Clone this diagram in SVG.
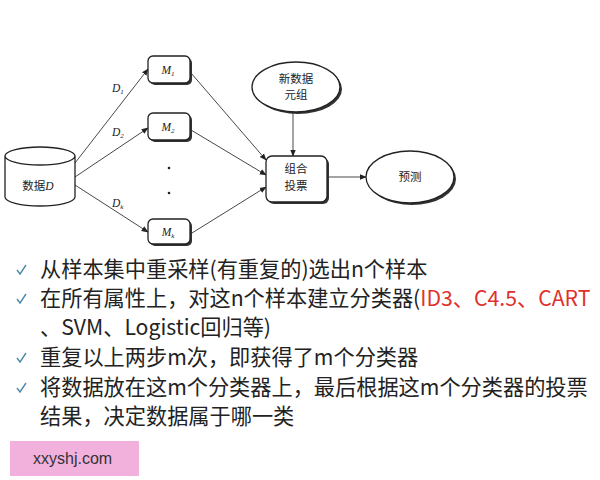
<svg xmlns="http://www.w3.org/2000/svg" width="600" height="480" viewBox="0 0 600 480">
<style>
.shape{fill:#fff;stroke:#222;stroke-width:1.3}
.shadow{fill:#333}
.edge{fill:none;stroke:#333;stroke-width:0.9}
.lab{font-family:"Noto Sans CJK SC","Noto Sans",sans-serif;font-size:11.5px;fill:#222;text-anchor:middle}
.it{font-family:"Liberation Serif",serif;font-style:italic}
.b{font-family:"Noto Sans CJK SC","Noto Sans",sans-serif;font-size:21.2px;fill:#222}
.red{fill:#e0302c}
.chk{fill:none;stroke:#4a8aa8;stroke-width:1.4}
</style>
<defs>
<marker id="ah" viewBox="0 0 10 10" refX="9" refY="5" markerWidth="7" markerHeight="7" markerUnits="userSpaceOnUse" orient="auto">
<path d="M0,1 L10,5 L0,9 z" fill="#222"/>
</marker>
</defs>
<rect width="600" height="480" fill="#fff"/>
<g id="connectors">
<path class="edge" d="M75,163 L148,69" marker-end="url(#ah)"/>
<path class="edge" d="M75,177 L148,128" marker-end="url(#ah)"/>
<path class="edge" d="M75,185 L148,232" marker-end="url(#ah)"/>
<path class="edge" d="M191,73 L266,160" marker-end="url(#ah)"/>
<path class="edge" d="M191,130 L266,175" marker-end="url(#ah)"/>
<path class="edge" d="M192,233 L266,187" marker-end="url(#ah)"/>
<path class="edge" d="M293,112 L293,156" marker-end="url(#ah)"/>
<path class="edge" d="M328,177 L366,177" marker-end="url(#ah)"/>
<text class="lab it" x="112" y="92" style="text-anchor:start">D<tspan font-size="7" dy="2">1</tspan></text>
<text class="lab it" x="112" y="136" style="text-anchor:start">D<tspan font-size="7" dy="2">2</tspan></text>
<text class="lab it" x="112" y="207" style="text-anchor:start">D<tspan font-size="7" dy="2">k</tspan></text>
</g>
<g id="data">
<path class="shape" d="M5,156 L5,197 A35,9 0 0 0 75,197 L75,156 A35,9 0 0 0 5,156 A35,9 0 0 0 75,156"/>
<text class="lab" x="38" y="190">数据<tspan class="it">D</tspan></text>
</g>
<g id="m1">
<rect class="shadow" x="150" y="58" width="42" height="27" rx="5"/>
<rect class="shape" x="148" y="56" width="42" height="27" rx="5"/>
<text class="lab it" x="168" y="74">M<tspan font-size="7" dy="2">1</tspan></text>
</g>
<g id="m2">
<rect class="shadow" x="150" y="115" width="42" height="27" rx="5"/>
<rect class="shape" x="148" y="113" width="42" height="27" rx="5"/>
<text class="lab it" x="168" y="131">M<tspan font-size="7" dy="2">2</tspan></text>
</g>
<g id="dots">
<circle cx="169" cy="168" r="1.3" fill="#222"/>
<circle cx="169" cy="193" r="1.3" fill="#222"/>
</g>
<g id="mk">
<rect class="shadow" x="150" y="221" width="42" height="25" rx="5"/>
<rect class="shape" x="148" y="219" width="42" height="25" rx="5"/>
<text class="lab it" x="168" y="236">M<tspan font-size="7" dy="2">k</tspan></text>
</g>
<g id="newdata">
<ellipse class="shadow" cx="298" cy="89" rx="44" ry="25"/>
<ellipse class="shape" cx="296" cy="87" rx="44" ry="25"/>
<text class="lab" x="296" y="83">新数据</text>
<text class="lab" x="296" y="99">元组</text>
</g>
<g id="vote">
<rect class="shadow" x="268" y="158" width="61" height="46" rx="6"/>
<rect class="shape" x="266" y="156" width="61" height="46" rx="6"/>
<text class="lab" x="296" y="173">组合</text>
<text class="lab" x="296" y="190">投票</text>
</g>
<g id="predict">
<ellipse class="shadow" cx="412" cy="179" rx="44" ry="26"/>
<ellipse class="shape" cx="410" cy="177" rx="44" ry="26"/>
<text class="lab" x="410" y="181">预测</text>
</g>
<g id="bullets">
<path class="chk" d="M17,270 L20,274 L26,265"/>
<path class="chk" d="M17,299 L20,303 L26,294"/>
<path class="chk" d="M17,358 L20,362 L26,353"/>
<path class="chk" d="M17,388 L20,392 L26,383"/>
<text class="b" x="40" y="277">从样本集中重采样(有重复的)选出n个样本</text>
<text class="b" x="40" y="306">在所有属性上，对这n个样本建立分类器(<tspan class="red">ID3、C4.5、CART</tspan></text>
<text class="b" x="40" y="335">、SVM、Logistic回归等)</text>
<text class="b" x="40" y="365">重复以上两步m次，即获得了m个分类器</text>
<text class="b" x="40" y="395">将数据放在这m个分类器上，最后根据这m个分类器的投票</text>
<text class="b" x="40" y="424">结果，决定数据属于哪一类</text>
</g>
<g id="watermark">
<rect x="10" y="441" width="129" height="35" fill="#f2b0dc"/>
<text x="33" y="464" font-family="Liberation Sans, sans-serif" font-size="16" fill="#333">xxyshj.com</text>
</g>
</svg>
